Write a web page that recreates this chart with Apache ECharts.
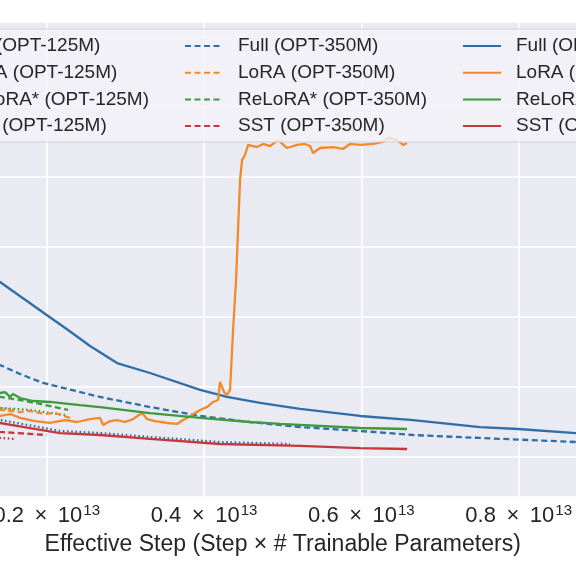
<!DOCTYPE html>
<html>
<head>
<meta charset="utf-8">
<script src="https://cdn.jsdelivr.net/npm/echarts@6/dist/echarts.min.js"></script>
<style>html,body{margin:0;padding:0;background:#fff}#c{width:576px;height:576px}</style>
</head>
<body>
<div id="c"></div>
<script>
// x in units of 1e13 effective steps, y = loss
const xTicks = [0, 0.2, 0.4, 0.6, 0.8, 1.0];
const namesCol1 = ['Full (OPT-125M)', 'LoRA (OPT-125M)', 'ReLoRA* (OPT-125M)', 'SST (OPT-125M)'];
const namesCol2 = ['Full (OPT-350M)', 'LoRA (OPT-350M)', 'ReLoRA* (OPT-350M)', 'SST (OPT-350M)'];
const namesCol3 = ['Full (OPT-1.3B)', 'LoRA (OPT-1.3B)', 'ReLoRA* (OPT-1.3B)', 'SST (OPT-1.3B)'];

const full125 = [[0.1152,3.286],[0.1406,3.264],[0.2169,3.186],[0.2678,3.171],[0.3313,3.143],[0.4203,3.107],[0.5093,3.093]];
const lora125 = [[0.1025,3.364],[0.1406,3.350],[0.1597,3.336]];
const relora125 = [[0.1152,3.364],[0.1406,3.350],[0.1788,3.336],[0.2233,3.300]];
const sst125 = [[0.1025,3.150],[0.1406,3.136],[0.1597,3.129]];

const full350 = [[0.1152,3.693],[0.1406,3.657],[0.1661,3.593],[0.1953,3.529],[0.2678,3.429],[0.3313,3.357],[0.3950,3.293],[0.4585,3.250],[0.5221,3.214],[0.5984,3.186],[0.6657,3.157],[0.7509,3.136],[0.8730,3.107],[0.9035,3.100]];
const lora350 = [[0.1152,3.357],[0.1406,3.336],[0.1661,3.321],[0.1788,3.329],[0.1978,3.307],[0.2106,3.314],[0.2296,3.279]];
const relora350 = [[0.1152,3.450],[0.1406,3.429],[0.1661,3.407],[0.1915,3.379],[0.2271,3.336]];
const sst350 = [[0.1152,3.193],[0.1406,3.179],[0.2000,3.157]];

const full13b = [[0.1152,4.350],[0.1406,4.250],[0.2000,4.014],[0.2271,3.907],[0.2551,3.793],[0.2894,3.671],[0.3313,3.600],[0.3950,3.479],[0.4292,3.429],[0.4712,3.386],[0.5221,3.343],[0.5984,3.293],[0.6657,3.264],[0.7509,3.214],[0.7993,3.200],[0.8730,3.171],[0.9035,3.164]];
const lora13b = [[0.1152,3.321],[0.1406,3.293],[0.1533,3.307],[0.1661,3.279],[0.1851,3.257],[0.2042,3.243],[0.2233,3.264],[0.2385,3.250],[0.2551,3.271],[0.2678,3.279],[0.2716,3.229],[0.2806,3.257],[0.2894,3.264],[0.2996,3.250],[0.3097,3.271],[0.3212,3.314],[0.3275,3.271],[0.3377,3.257],[0.3530,3.243],[0.3657,3.236],[0.3733,3.264],[0.3784,3.279],[0.3886,3.314],[0.3950,3.336],[0.4038,3.357],[0.4115,3.393],[0.4178,3.407],[0.4203,3.536],[0.4254,3.464],[0.4292,3.443],[0.4331,3.479],[0.4369,3.907],[0.4407,4.264],[0.4432,4.621],[0.4458,4.979],[0.4483,5.121],[0.4521,5.157],[0.4560,5.229],[0.4585,5.243],[0.4674,5.214],[0.4750,5.236],[0.4839,5.221],[0.4941,5.264],[0.5055,5.207],[0.5182,5.229],[0.5284,5.236],[0.5348,5.221],[0.5386,5.171],[0.5475,5.207],[0.5640,5.214],[0.5767,5.200],[0.5856,5.236],[0.5984,5.229],[0.6149,5.236],[0.6276,5.250],[0.6340,5.279],[0.6454,5.264],[0.6530,5.229],[0.6581,5.243]];
const relora13b = [[0.1152,3.479],[0.1406,3.457],[0.1470,3.464],[0.1533,3.429],[0.1572,3.450],[0.1661,3.421],[0.1826,3.400],[0.2042,3.393],[0.2423,3.371],[0.2678,3.357],[0.3313,3.314],[0.3950,3.279],[0.4585,3.250],[0.4966,3.236],[0.5984,3.207],[0.6581,3.200]];
const sst13b = [[0.1152,3.264],[0.1406,3.243],[0.1788,3.207],[0.2169,3.171],[0.2678,3.157],[0.3313,3.129],[0.4203,3.093],[0.5221,3.079],[0.5984,3.064],[0.6581,3.057]];

const BLUE = '#2f6ea8', ORANGE = '#f28a2c', GREEN = '#3d9a3d', RED = '#c8383a';
const FONT = 'Liberation Sans, Arial, sans-serif';
const DASH = [6, 3.5], DOT = [1.6, 2.6];

function mk(name, data, color, type) {
  return {
    name, type: 'line', data, showSymbol: false, symbol: 'none', smooth: false,
    lineStyle: { color, width: 2.3, type },
    itemStyle: { color },
    z: 3
  };
}

const series = [
  mk(namesCol1[0], full125, BLUE, DOT),
  mk(namesCol1[1], lora125, ORANGE, DOT),
  mk(namesCol1[2], relora125, GREEN, DOT),
  mk(namesCol1[3], sst125, RED, DOT),
  mk(namesCol2[0], full350, BLUE, DASH),
  mk(namesCol2[1], lora350, ORANGE, DASH),
  mk(namesCol2[2], relora350, GREEN, DASH),
  mk(namesCol2[3], sst350, RED, DASH),
  mk(namesCol3[0], full13b, BLUE, 'solid'),
  mk(namesCol3[1], lora13b, ORANGE, 'solid'),
  mk(namesCol3[2], relora13b, GREEN, 'solid'),
  mk(namesCol3[3], sst13b, RED, 'solid')
];

function legendCol(data, left) {
  return {
    data, orient: 'vertical', left, top: 36, padding: 0,
    itemWidth: 38, itemHeight: 2, itemGap: 6.7,
    itemStyle: { opacity: 0, borderWidth: 0 },
    selectedMode: false, z: 20,
    textStyle: { fontFamily: FONT, fontSize: 19, color: '#262626', padding: [0, 0, 0, 10], lineHeight: 20 }
  };
}

const chart = echarts.init(document.getElementById('c'), null, { renderer: 'canvas' });
chart.setOption({
  animation: false,
  backgroundColor: '#ffffff',
  grid: { left: -110.6, right: -100, top: 22, bottom: 79, show: true, backgroundColor: '#eaeaf2', borderWidth: 0, containLabel: false, outerBoundsMode: 'none' },
  xAxis: {
    type: 'value', min: xTicks[0], max: xTicks[xTicks.length - 1], interval: 0.2,
    axisLine: { show: false }, axisTick: { show: false },
    splitLine: { show: true, lineStyle: { color: '#ffffff', width: 1.6 } },
    axisLabel: {
      margin: 6,
      formatter: v => '{n|' + v.toFixed(1) + '\u2009 × \u200910}{s|13}',
      rich: {
        n: { fontFamily: FONT, fontSize: 22, color: '#262626', lineHeight: 26 },
        s: { fontFamily: FONT, fontSize: 15, color: '#262626', lineHeight: 12, verticalAlign: 'top', padding: [0, 0, 0, 1] }
      }
    },
    name: 'Effective Step (Step × # Trainable Parameters)',
    nameLocation: 'middle', nameGap: 36,
    nameTextStyle: { fontFamily: FONT, fontSize: 23, color: '#262626' }
  },
  yAxis: {
    type: 'value', min: 2.7143, max: 6.1071, splitNumber: 7,
    axisLine: { show: false }, axisTick: { show: false }, axisLabel: { show: false },
    splitLine: { show: true, lineStyle: { color: '#ffffff', width: 1.6 } }
  },
  legend: [legendCol(namesCol1, -94), legendCol(namesCol2, 184), legendCol(namesCol3, 462)],
  graphic: [{
    type: 'rect', z: 10, silent: true,
    shape: { x: -120, y: 29, width: 820, height: 113 },
    style: { fill: 'rgba(243,243,247,0.8)', stroke: '#cfcfd4', lineWidth: 1.2 }
  }],
  series
});
</script>
</body>
</html>
